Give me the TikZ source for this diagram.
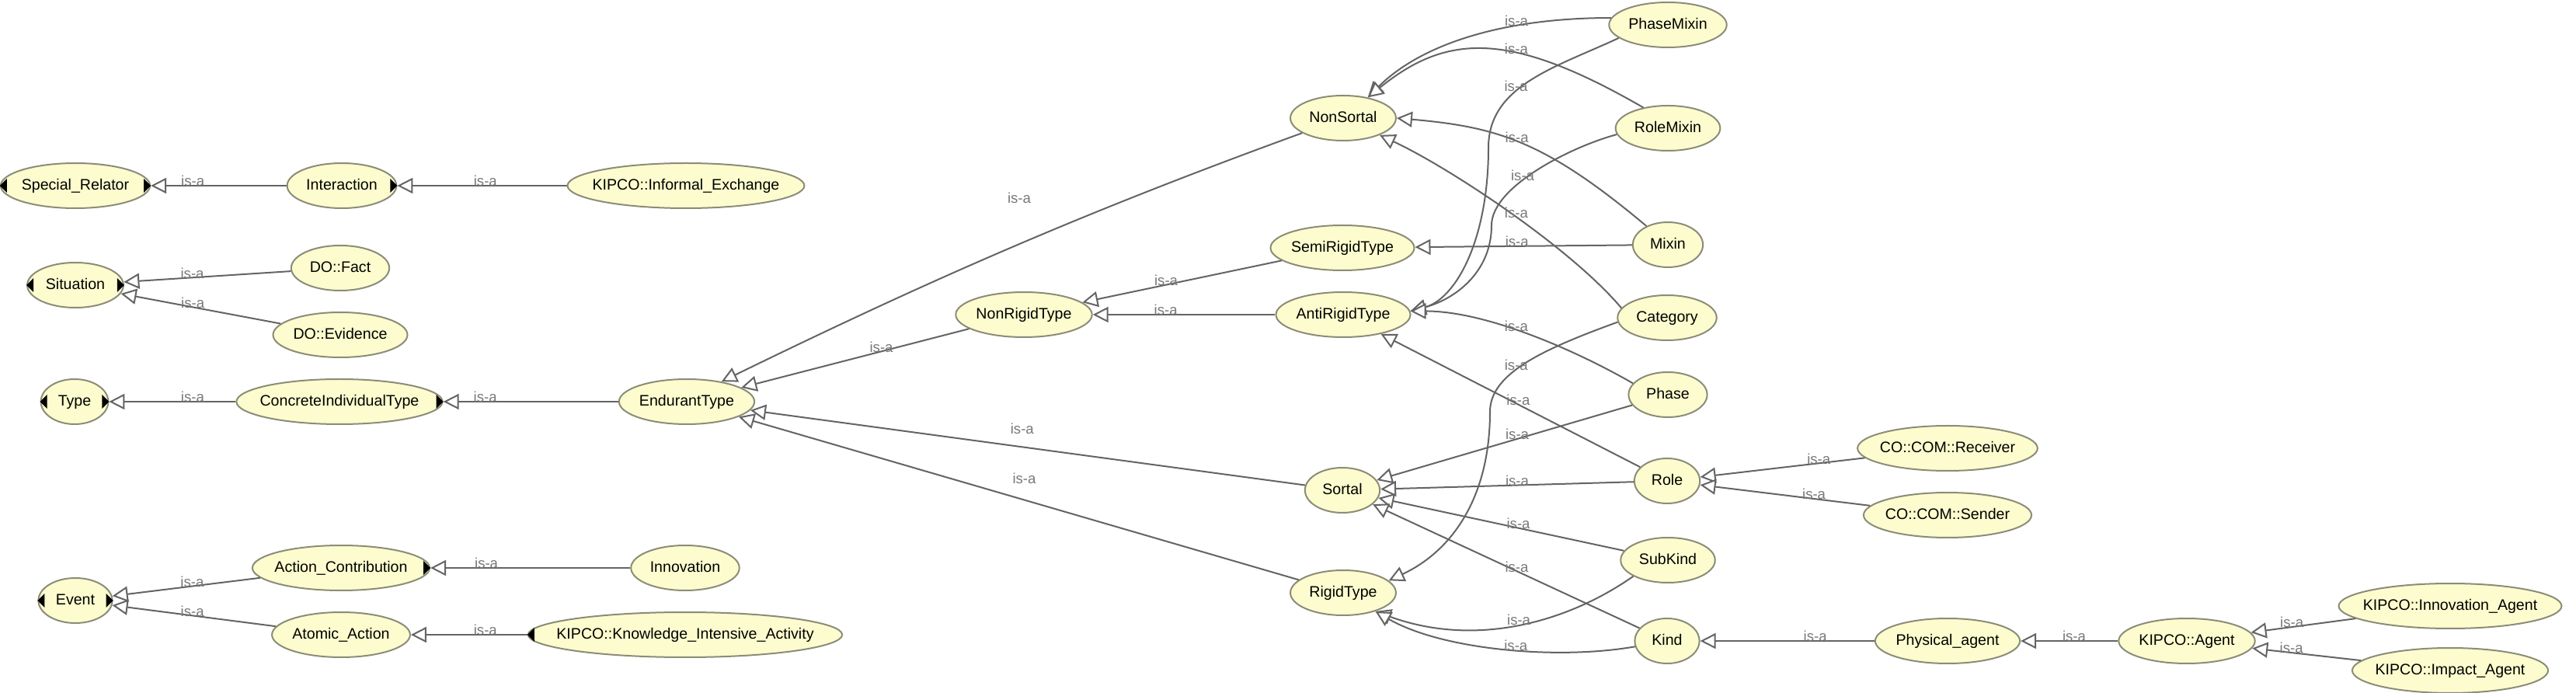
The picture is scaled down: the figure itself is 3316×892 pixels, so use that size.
\documentclass[tikz,border=0pt]{standalone}
\usepackage{fontspec}
\setmainfont{Liberation Sans}
\usetikzlibrary{shapes.geometric,arrows.meta}
\definecolor{clsfill}{RGB}{252,252,206}
\definecolor{clsline}{RGB}{140,140,120}
\definecolor{edgegray}{RGB}{100,100,100}
\definecolor{lblgray}{RGB}{120,120,120}

\begin{document}
\begin{tikzpicture}[x=0.5pt, y=0.5pt,
		cls/.style={ellipse, draw=clsline, fill=clsfill, line width=1pt, font=\fontsize{9.8}{11}\selectfont, text height=7.2pt, text depth=2pt, inner ysep=1pt, inner xsep={7.07pt-0.111*\the\wd\pgfnodeparttextbox}, minimum height=29pt},
		isa/.style={draw=edgegray, line width=1pt, -{Triangle[length=10pt, width=10pt, fill=white]}},
		lbl/.style={font=\fontsize{9.3}{11}\selectfont, text=lblgray, inner sep=0pt, anchor=south, yshift=-1pt},
		expmark/.style={fill=black}]
		
		\useasboundingbox (0,0) rectangle (3316,-892);
		
		%Nodes
		\node[cls] (11) at (97,-239)   {Special\_Relator};
		\node[cls] (12) at (97,-367)   {Situation};
		\node[cls] (13) at (96,-517)   {Type};
		\node[cls] (14) at (97,-773)   {Event};
		\node[cls] (21) at (440,-239)  {Interaction};
		\node[cls] (22) at (438,-345)  {DO::Fact};
		\node[cls] (23) at (438,-431)  {DO::Evidence};
		\node[cls] (24) at (437,-517)  {ConcreteIndividualType};
		\node[cls] (25) at (439,-731)  {Action\_Contribution};
		\node[cls] (26) at (439,-817)  {Atomic\_Action};
		\node[cls] (31) at (883,-239)  {KIPCO::Informal\_Exchange};
		\node[cls] (32) at (884,-517)  {EndurantType};
		\node[cls] (33) at (882,-731)  {Innovation};
		\node[cls] (34) at (882,-817)  {KIPCO::Knowledge\_Intensive\_Activity};
		\node[cls] (41) at (1318,-405) {NonRigidType};
		\node[cls] (51) at (1729,-152) {NonSortal};
		\node[cls] (52) at (1728,-319) {SemiRigidType};
		\node[cls] (53) at (1729,-405) {AntiRigidType};
		\node[cls] (54) at (1728,-631) {Sortal};
		\node[cls] (55) at (1729,-763) {RigidType};
		\node[cls] (61) at (2147,-32)  {PhaseMixin};
		\node[cls] (62) at (2147,-165) {RoleMixin};
		\node[cls] (63) at (2147,-315) {Mixin};
		\node[cls] (64) at (2146,-409) {Category};
		\node[cls] (65) at (2147,-508) {Phase};
		\node[cls] (66) at (2146,-619) {Role};
		\node[cls] (67) at (2147,-721) {SubKind};
		\node[cls] (68) at (2146,-825) {Kind};
		\node[cls] (71) at (2507,-577) {CO::COM::Receiver};
		\node[cls] (72) at (2507,-663) {CO::COM::Sender};
		\node[cls] (73) at (2507,-825) {Physical\_agent};
		\node[cls] (81) at (2815,-825) {KIPCO::Agent};
		\node[cls] (91) at (3154,-780) {KIPCO::Innovation\_Agent};
		\node[cls] (92) at (3154,-863) {KIPCO::Impact\_Agent};
		
		%Expand marks
		\foreach \n in {11,12,13,14,34}
			\fill[expmark] (\n.west) -- ++(9,9) -- ++(0,-18) -- cycle;
		\foreach \n in {11,21,12,13,24,14,25}
			\fill[expmark] (\n.east) -- ++(-9,9) -- ++(0,-18) -- cycle;
		
		%Lines
		\draw[isa] (21) -- (11) node[lbl, pos=.69] {is-a};
		\draw[isa] (22) -- (12) node[lbl, pos=.59] {is-a};
		\draw[isa] (23) -- (12) node[lbl, pos=.55] {is-a};
		\draw[isa] (24) -- (13) node[lbl, pos=.34] {is-a};
		\draw[isa] (25) -- (14) node[lbl, pos=.46] {is-a};
		\draw[isa] (26) -- (14) node[lbl, pos=.51] {is-a};
		
		\draw[isa] (31) -- (21) node[lbl, pos=.48] {is-a};
		\draw[isa] (32) -- (24) node[lbl, pos=.76] {is-a};
		\draw[isa] (33) -- (25) node[lbl, pos=.72] {is-a};
		\draw[isa] (34) -- (26) node[lbl, pos=.36] {is-a};
		
		\draw[isa] (41) -- (32) node[lbl, pos=.385] {is-a};
		\draw[isa] (51.200) .. controls +(200:300) and +(26:300) .. (32.30) node[lbl, pos=.48, yshift=27pt] {is-a};
		\draw[isa] (54) -- (32) node[lbl, pos=.51, yshift=9pt] {is-a};
		\draw[isa] (55) -- (32) node[lbl, pos=.49, yshift=11pt] {is-a};
		
		\draw[isa] (52) -- (41) node[lbl, pos=.58] {is-a};
		\draw[isa] (53) -- (41) node[lbl, pos=.60] {is-a};
		
		\draw[isa] (61.173) .. controls +(180:150) and +(45:90) .. (51.40) node[lbl, pos=.3] {is-a};
		\draw[isa] (62.140) .. controls +(150:200) and +(39:130) .. (51.40) node[lbl, pos=.38] {is-a};
		\draw[isa] (63.139) .. controls +(140:170) and +(-5:130) .. (51.0) node[lbl, pos=.52] {is-a};
		\draw[isa] (64.168) .. controls +(130:100) and +(-25:100) .. (51.335) node[lbl, pos=.47] {is-a};
		
		\draw[isa] (63) -- (52) node[lbl, pos=.53] {is-a};
		
		\draw[isa] (61.195) .. controls +(205:90) and +(90:80) .. (1916,-190) node[lbl, pos=.6] {is-a} .. controls +(-90:120) and +(15:60) .. (53.3);
		\draw[isa] (62.187) .. controls +(195:60) and +(90:50) .. (1920,-290) node[lbl, pos=.6] {is-a} .. controls +(-90:60) and +(15:60) .. (53.3);
		\draw[isa] (65.162) .. controls +(150:80) and +(0:100) .. (53.3) node[lbl, pos=.56] {is-a};
		\draw[isa] (66) -- (53) node[lbl, pos=.47] {is-a};
		
		\draw[isa] (65) -- (54) node[lbl, pos=.45] {is-a};
		\draw[isa] (66) -- (54) node[lbl, pos=.46] {is-a};
		\draw[isa] (67) -- (54) node[lbl, pos=.43] {is-a};
		\draw[isa] (68) -- (54) node[lbl, pos=.46] {is-a};
		
		\draw[isa] (64.185) .. controls +(200:100) and +(90:50) .. (1918,-530) node[lbl, pos=.58] {is-a} .. controls +(-90:110) and +(25:90) .. (55.15);
		\draw[isa] (67.205) .. controls +(215:100) and +(-20:140) .. (55.330) node[lbl, pos=.5] {is-a};
		\draw[isa] (68.190) .. controls +(190:100) and +(-30:100) .. (55.330) node[lbl, pos=.45] {is-a};
		
		\draw[isa] (71) -- (66) node[lbl, pos=.28] {is-a};
		\draw[isa] (72) -- (66) node[lbl, pos=.33] {is-a};
		\draw[isa] (73) -- (68) node[lbl, pos=.34] {is-a};
		\draw[isa] (81) -- (73) node[lbl, pos=.45] {is-a};
		\draw[isa] (91) -- (81) node[lbl, pos=.61] {is-a};
		\draw[isa] (92) -- (81) node[lbl, pos=.64] {is-a};
	\end{tikzpicture}
\end{document}
